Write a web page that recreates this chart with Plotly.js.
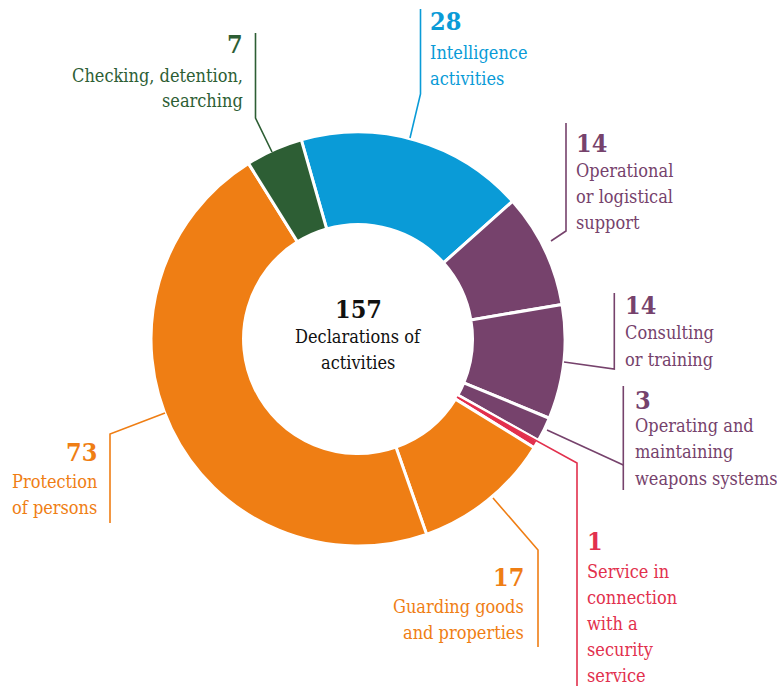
<!DOCTYPE html>
<html>
<head>
<meta charset="utf-8">
<script src="https://cdn.plot.ly/plotly-3.0.1.min.js"></script>
<style>
html,body{margin:0;padding:0;background:#fff;}
#chart{width:777px;height:686px;}
</style>
</head>
<body>
<div id="chart"></div>
<script>
// ---- data ----
const categories = [
  "Intelligence activities",
  "Operational or logistical support",
  "Consulting or training",
  "Operating and maintaining weapons systems",
  "Service in connection with a security service",
  "Guarding goods and properties",
  "Protection of persons",
  "Checking, detention, searching"
];
const values = [28, 14, 14, 3, 1, 17, 73, 7];
const labelLines = [
  ["Intelligence", "activities"],
  ["Operational", "or logistical", "support"],
  ["Consulting", "or training"],
  ["Operating and", "maintaining", "weapons systems"],
  ["Service in", "connection", "with a", "security", "service"],
  ["Guarding goods", "and properties"],
  ["Protection", "of persons"],
  ["Checking, detention,", "searching"]
];
const centerTotalLabel = ["Declarations of", "activities"];

// ---- styles ----
const BLUE = "#0a9bd7", PURPLE = "#76426c", RED = "#e2304d", ORANGE = "#ef7e14", GREEN = "#2d5e34";
const colors = [BLUE, PURPLE, PURPLE, PURPLE, RED, ORANGE, ORANGE, GREEN];
const W = 777, H = 686;
const FONT = "DejaVu Serif Condensed, DejaVu Serif, serif";

function px(x){ return x / W; }
function py(y){ return 1 - y / H; }

// donut geometry (pixels)
const CX = 358, CY = 339, R = 207;

// label layout: [anchor x, align, y of number, y of first text line, line step]
const labelPos = [
  {x: 428, align: "left",  yNum: 22,  yText: 52,  step: 26.5},
  {x: 574, align: "left",  yNum: 143, yText: 171, step: 25.5},
  {x: 623, align: "left",  yNum: 306, yText: 333, step: 26},
  {x: 633, align: "left",  yNum: 400, yText: 425, step: 26.5},
  {x: 585, align: "left",  yNum: 541, yText: 571, step: 26.2},
  {x: 526, align: "right", yNum: 577, yText: 606, step: 26},
  {x: 99,  align: "right", yNum: 452, yText: 481, step: 26},
  {x: 245, align: "right", yNum: 45,  yText: 75,  step: 26}
];
const connectors = [
  [[420.5, 9], [420.5, 94], [410, 138]],
  [[566, 123], [566, 231], [551, 241]],
  [[614.3, 293], [614.3, 369], [564, 362]],
  [[623.3, 386], [623.3, 490]],
  [[457, 397], [577, 463], [577, 686]],
  [[493, 498], [538, 550], [538, 647]],
  [[165, 413], [110, 434], [110, 523]],
  [[255.5, 33], [255.5, 118], [272, 152]]
];
const extraSegments = [
  {i: 3, pts: [[623.3, 465], [547, 430]]}
];

const annotations = [];
const shapes = [];

values.forEach((v, i) => {
  const p = labelPos[i];
  annotations.push({
    text: "<b>" + v + "</b>", x: px(p.x), y: py(p.yNum), xref: "paper", yref: "paper",
    xanchor: p.align, yanchor: "middle", showarrow: false,
    font: {family: FONT, size: 25, color: colors[i]}
  });
  labelLines[i].forEach((t, k) => {
    annotations.push({
      text: t, x: px(p.x), y: py(p.yText + k * p.step), xref: "paper", yref: "paper",
      xanchor: p.align, yanchor: "middle", showarrow: false,
      font: {family: FONT, size: 18, color: colors[i]}
    });
  });
  const pts = connectors[i];
  let d = "M " + pts.map(q => px(q[0]) + "," + py(q[1])).join(" L ");
  shapes.push({type: "path", xref: "paper", yref: "paper", path: d,
    line: {color: colors[i], width: 1.6}});
});
extraSegments.forEach(s => {
  let d = "M " + s.pts.map(q => px(q[0]) + "," + py(q[1])).join(" L ");
  shapes.push({type: "path", xref: "paper", yref: "paper", path: d,
    line: {color: colors[s.i], width: 1.6}});
});

// center label
const total = values.reduce((a, b) => a + b, 0);
annotations.push({
  text: "<b>" + total + "</b>", x: px(CX), y: py(309), xref: "paper", yref: "paper",
  xanchor: "center", yanchor: "middle", showarrow: false,
  font: {family: FONT, size: 25, color: "#111"}
});
centerTotalLabel.forEach((t, k) => {
  annotations.push({
    text: t, x: px(CX), y: py(337 + k * 25.5), xref: "paper", yref: "paper",
    xanchor: "center", yanchor: "middle", showarrow: false,
    font: {family: FONT, size: 18, color: "#111"}
  });
});

const trace = {
  type: "pie",
  labels: categories,
  values: values,
  sort: false,
  direction: "clockwise",
  rotation: -15.9,
  hole: 0.553,
  textinfo: "none",
  hoverinfo: "label+value",
  marker: {colors: colors, line: {color: "#ffffff", width: 3}},
  domain: {x: [px(CX - R), px(CX + R)], y: [py(CY + R), py(CY - R)]},
  showlegend: false
};

const layout = {
  width: W, height: H,
  margin: {l: 0, r: 0, t: 0, b: 0},
  paper_bgcolor: "#ffffff",
  plot_bgcolor: "#ffffff",
  showlegend: false,
  annotations: annotations,
  shapes: shapes
};

Plotly.newPlot("chart", [trace], layout, {displayModeBar: false, staticPlot: true});
</script>
</body>
</html>
